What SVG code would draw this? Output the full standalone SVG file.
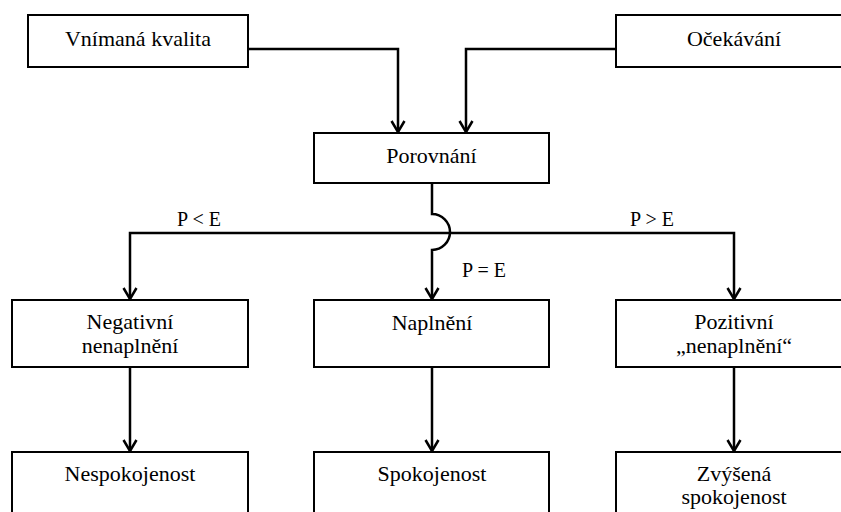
<svg xmlns="http://www.w3.org/2000/svg" width="841" height="512" viewBox="0 0 841 512">
<style>
.box{fill:#fff;stroke:#000;stroke-width:2}
.lbl{font-size:22px;fill:#000;text-anchor:middle}
.cond{font-size:20px;fill:#000}
.con{fill:none;stroke:#000;stroke-width:2.5}
.arr{marker-end:url(#ah)}
</style>
<defs>
<marker id="ah" markerUnits="userSpaceOnUse" markerWidth="20" markerHeight="20" refX="0" refY="0" orient="auto" overflow="visible">
<path d="M-11,-6.5 L0,0 L-11,6.5" fill="none" stroke="#000" stroke-width="2.5"/>
</marker>
</defs>
<rect width="841" height="512" fill="#fff"/>
<g font-family="Liberation Serif, Tinos, Times New Roman, DejaVu Serif, serif">
<g id="connectors">
<path class="con arr" d="M248,49 H398 V132"/>
<path class="con arr" d="M616,49 H466 V132"/>
<path class="con arr" d="M432,183 V214 A18,18 0 0 1 432,250 V299"/>
<path class="con arr" d="M432,233 H130 V299"/>
<path class="con arr" d="M432,233 H734 V299"/>
<path class="con arr" d="M130,367 V451"/>
<path class="con arr" d="M432,367 V451"/>
<path class="con arr" d="M734,367 V451"/>
<text class="cond" x="177" y="226">P &lt; E</text>
<text class="cond" x="630" y="226">P &gt; E</text>
<text class="cond" x="462" y="277">P = E</text>
</g>
<g id="vnimana">
<rect class="box" x="28" y="15" width="220" height="52"/>
<text class="lbl" x="138" y="46">Vnímaná kvalita</text>
</g>
<g id="ocekavani">
<rect class="box" x="616" y="15" width="236" height="52"/>
<text class="lbl" x="734" y="46">Očekávání</text>
</g>
<g id="porovnani">
<rect class="box" x="314" y="133" width="235" height="50"/>
<text class="lbl" x="431.5" y="163">Porovnání</text>
</g>
<g id="negativni">
<rect class="box" x="12" y="300" width="236" height="67"/>
<text class="lbl" x="130" y="329">Negativní</text>
<text class="lbl" x="130" y="353">nenaplnění</text>
</g>
<g id="naplneni">
<rect class="box" x="314" y="300" width="235" height="67"/>
<text class="lbl" x="432" y="330">Naplnění</text>
</g>
<g id="pozitivni">
<rect class="box" x="616" y="300" width="236" height="67"/>
<text class="lbl" x="734" y="329">Pozitivní</text>
<text class="lbl" x="734" y="353">„nenaplnění“</text>
</g>
<g id="nespokojenost">
<rect class="box" x="12" y="452" width="236" height="70"/>
<text class="lbl" x="130" y="481">Nespokojenost</text>
</g>
<g id="spokojenost">
<rect class="box" x="314" y="452" width="235" height="70"/>
<text class="lbl" x="432" y="481">Spokojenost</text>
</g>
<g id="zvysena">
<rect class="box" x="616" y="452" width="236" height="70"/>
<text class="lbl" x="734" y="481">Zvýšená</text>
<text class="lbl" x="734" y="504">spokojenost</text>
</g>
</g>
</svg>
